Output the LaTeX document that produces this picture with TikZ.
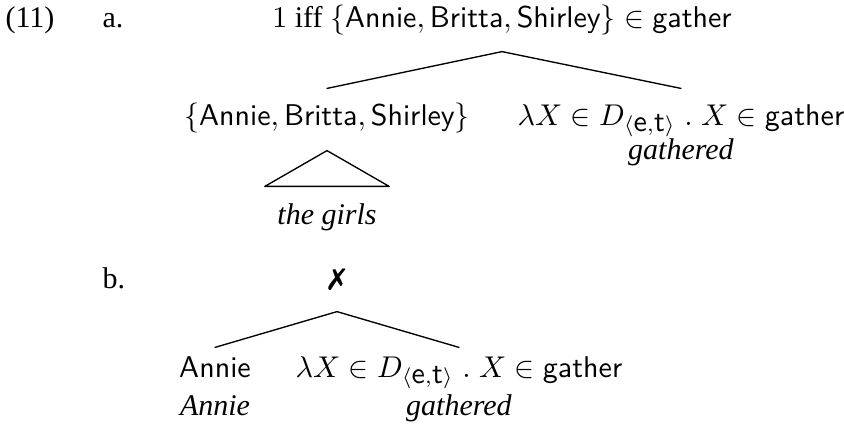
\documentclass[tikz,border=0pt]{standalone}
\usepackage[no-math]{fontspec}
\setmainfont{Liberation Serif}
\usepackage{pifont}
\begin{document}
\begin{tikzpicture}[x=0.33333pt,y=-0.33333pt,
  lab/.style={inner sep=0pt, anchor=base},
  branch/.style={line width=0.45pt, line cap=round, line join=round}]
\useasboundingbox (0,0) rectangle (844,431);
% labels of the example
\node[lab, anchor=base west] (num) at (5,27) {(11)};
\node[lab, anchor=base west] (la) at (102,27) {a.};
\node[lab, anchor=base west] (lb) at (102,288) {b.};
% tree a
\node[lab, text depth=8pt] (aroot) at (502,27)
  {$1$ iff $\{\textsf{Annie},\textsf{Britta},\textsf{Shirley}\}\in\textsf{gather}$};
\node[lab, text height=12pt, text depth=8.33pt] (aleft) at (327,125)
  {$\{\textsf{Annie},\textsf{Britta},\textsf{Shirley}\}$};
\node[lab, text height=12pt] (aright) at (681,125)
  {$\lambda X\in D_{\langle\textsf{e},\textsf{t}\rangle}\;.\;X\in\textsf{gather}$};
\node[lab] (agath) at (681,159) {\textit{gathered}};
\node[lab, text height=12.33pt] (girls) at (327,224) {\textit{the girls}};
\draw[branch] (aroot.south) -- (aleft.north);
\draw[branch] (aroot.south) -- (aright.north);
\draw[branch] (aleft.south) -- ([xshift=-4pt]girls.north west)
  -- ([xshift=4pt]girls.north east) -- cycle;
% tree b
\node[lab, text depth=7.67pt] (broot) at (337,288) {\ding{55}};
\node[lab, text height=9.67pt] (bleft) at (215,377) {\textsf{Annie}};
\node[lab, text height=9.67pt] (bright) at (459,377)
  {$\lambda X\in D_{\langle\textsf{e},\textsf{t}\rangle}\;.\;X\in\textsf{gather}$};
\node[lab] (bleftit) at (215,415) {\textit{Annie}};
\node[lab] (brightit) at (459,415) {\textit{gathered}};
\draw[branch] (broot.south) -- (bleft.north);
\draw[branch] (broot.south) -- (bright.north);
\end{tikzpicture}
\end{document}
